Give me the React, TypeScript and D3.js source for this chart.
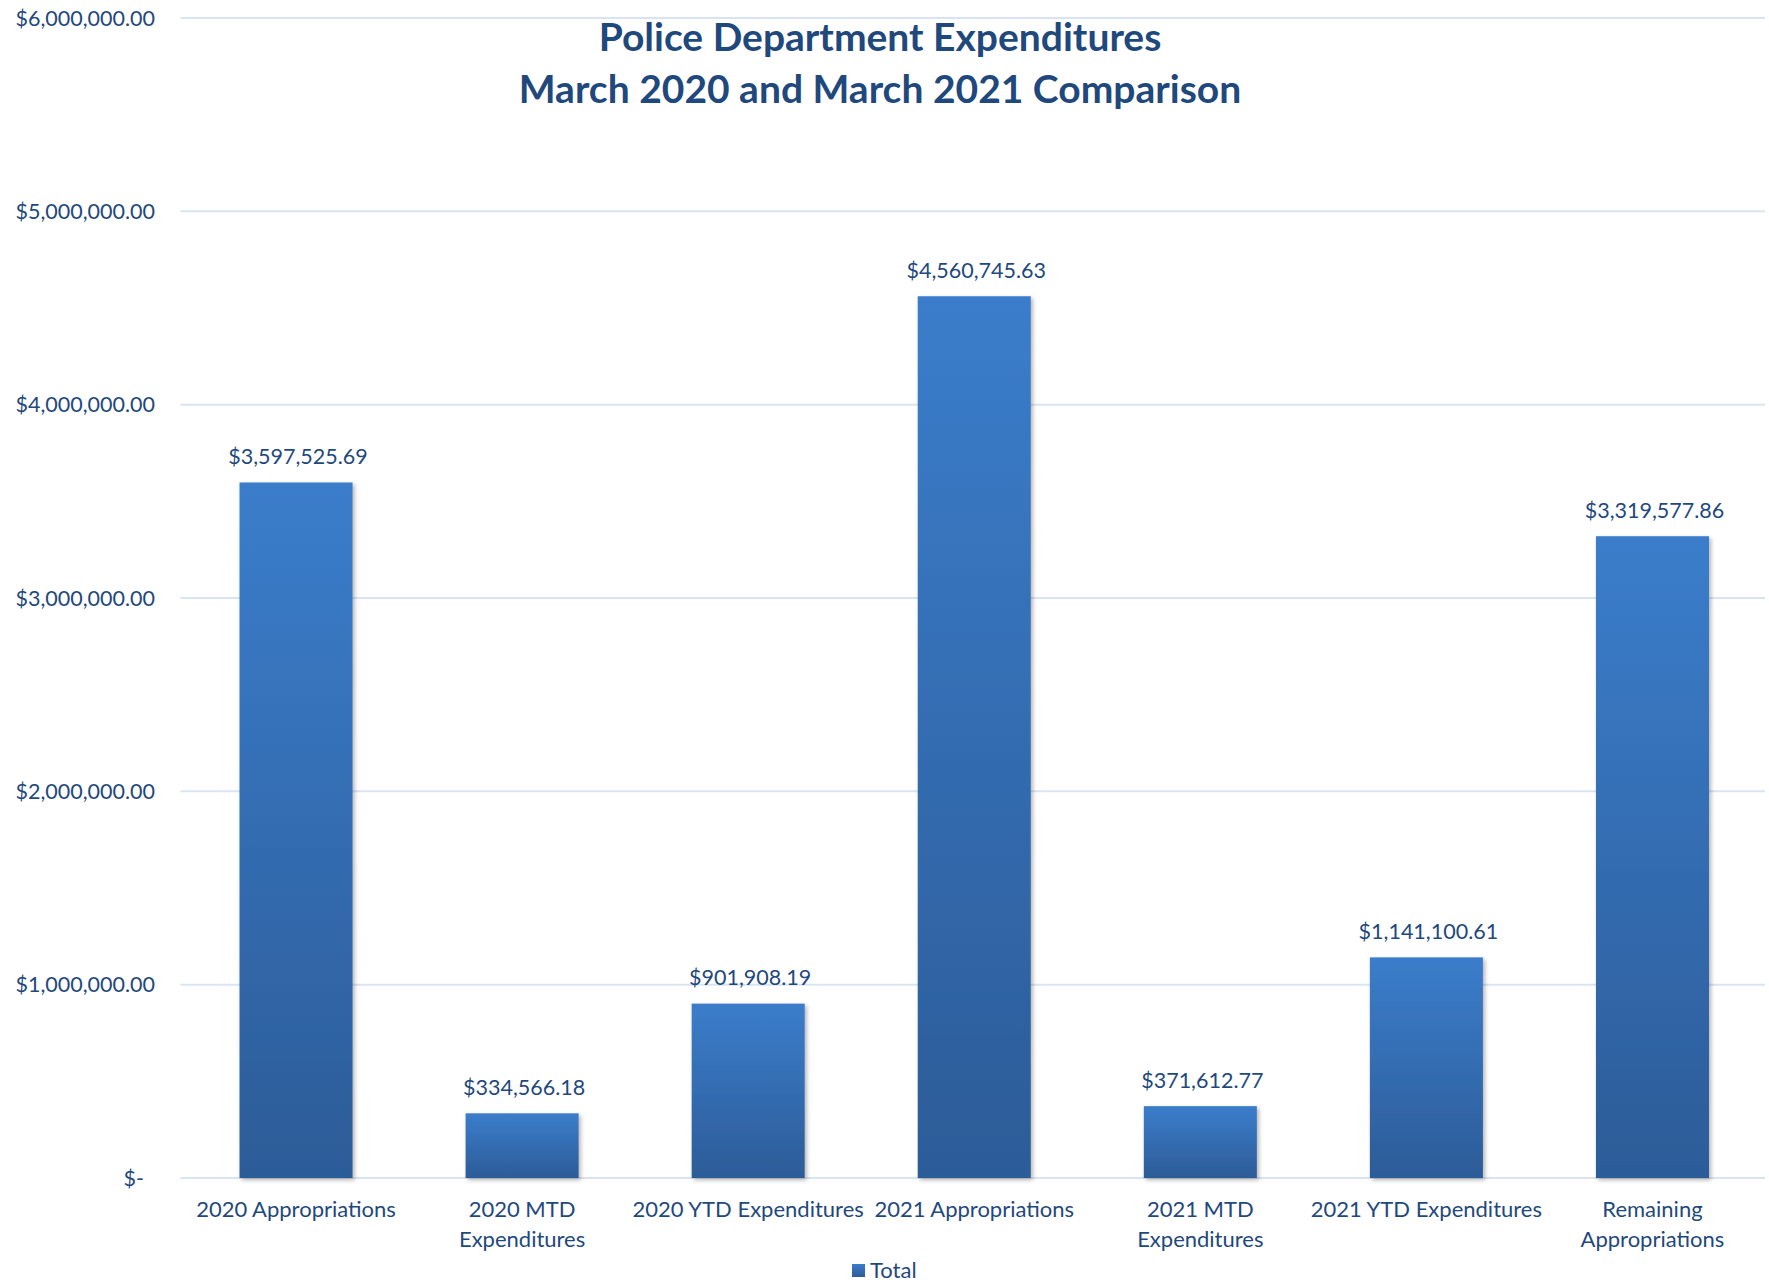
import React from "react";
import * as d3 from "d3";

const categories = [
  "2020 Appropriations",
  "2020 MTD\nExpenditures",
  "2020 YTD Expenditures",
  "2021 Appropriations",
  "2021 MTD\nExpenditures",
  "2021 YTD Expenditures",
  "Remaining\nAppropriations",
];
const totals = [3597525.69, 334566.18, 901908.19, 4560745.63, 371612.77, 1141100.61, 3319577.86];
const yTicks = [0, 1000000, 2000000, 3000000, 4000000, 5000000, 6000000];
const titleLines = ["Police Department Expenditures", "March 2020 and March 2021 Comparison"];
const seriesName = "Total";

const W = 1769;
const H = 1285;
const FONT = "Lato, 'Open Sans', sans-serif";
const TEXT = "#1F497D";

export default function App() {
  const x = d3.scaleBand<string>().domain(categories).range([183, 1765.5]).paddingInner(0.5).paddingOuter(0.25);
  const y = d3.scaleLinear().domain([0, 6000000]).range([1178, 18]);
  const fmt = d3.format("$,.2f");
  const tickFmt = (v: number) => (v === 0 ? "$-" : fmt(v));

  return (
    <div style={{ position: "absolute", left: 0, top: 0 }}>
      <svg width={W} height={H} style={{ display: "block", background: "#fff" }}>
        <defs>
          <linearGradient id="barGrad" x1="0" y1="0" x2="0" y2="1">
            <stop offset="0%" stopColor="#3B7DCB" />
            <stop offset="100%" stopColor="#2C5C98" />
          </linearGradient>
          <filter id="shadow" x="-10%" y="-10%" width="130%" height="130%">
            <feDropShadow dx="2" dy="2" stdDeviation="2" floodColor="#000" floodOpacity="0.3" />
          </filter>
        </defs>

        {yTicks.map((t) => (
          <g key={t}>
            <line x1={180.5} x2={1765} y1={y(t)} y2={y(t)} stroke="#D9E4F3" strokeWidth={2} />
            <text
              x={t === 0 ? 144 : 155}
              y={y(t)}
              dy="0.35em"
              textAnchor="end"
              fontFamily={FONT}
              fontSize={21.5}
              fill={TEXT}
            >
              {tickFmt(t)}
            </text>
          </g>
        ))}

        {categories.map((c, i) => {
          const bx = x(c)!;
          const by = y(totals[i]);
          return (
            <g key={c}>
              <rect
                x={bx}
                y={by}
                width={x.bandwidth()}
                height={y(0) - by}
                fill="url(#barGrad)"
                filter="url(#shadow)"
              />
              <text
                x={bx + x.bandwidth() / 2 + 2}
                y={by - 26}
                dy="0.35em"
                textAnchor="middle"
                fontFamily={FONT}
                fontSize={21.5}
                fill={TEXT}
              >
                {fmt(totals[i])}
              </text>
              {c.split("\n").map((line, j) => (
                <text
                  key={j}
                  x={bx + x.bandwidth() / 2}
                  y={1209 + j * 30}
                  dy="0.35em"
                  textAnchor="middle"
                  fontFamily={FONT}
                  fontSize={22}
                  fill={TEXT}
                >
                  {line}
                </text>
              ))}
            </g>
          );
        })}

        {titleLines.map((l, i) => (
          <text
            key={i}
            x={880}
            y={37 + i * 52}
            dy="0.35em"
            textAnchor="middle"
            fontFamily={FONT}
            fontWeight="bold"
            fontSize={39}
            fill={TEXT}
          >
            {l}
          </text>
        ))}

        <rect x={852} y={1264} width={13} height={13} fill="url(#barGrad)" />
        <text x={870} y={1270.5} dy="0.35em" fontFamily={FONT} fontSize={22} fill={TEXT}>
          {seriesName}
        </text>
      </svg>
    </div>
  );
}
